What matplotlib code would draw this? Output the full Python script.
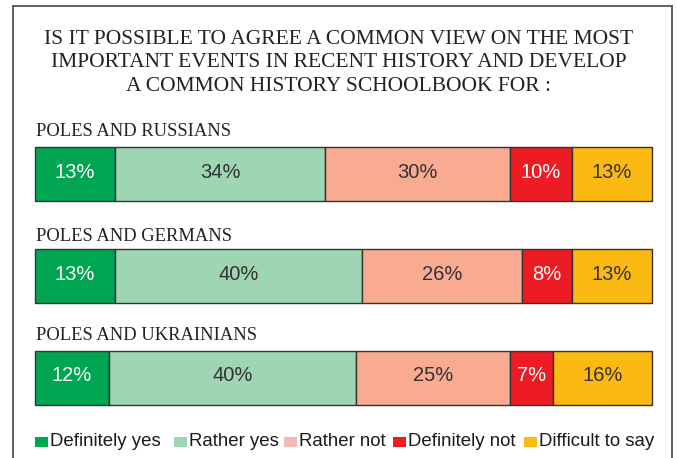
import matplotlib.pyplot as plt
from matplotlib.patches import Rectangle
from matplotlib.lines import Line2D

groups = ['POLES AND RUSSIANS', 'POLES AND GERMANS', 'POLES AND UKRAINIANS']
answers = ['Definitely yes', 'Rather yes', 'Rather not', 'Definitely not', 'Difficult to say']
shares = [
    [13, 34, 30, 10, 13],
    [13, 40, 26, 8, 13],
    [12, 40, 25, 7, 16],
]
bar_colors = ['#00A551', '#9FD5B2', '#F9AB91', '#ED1C24', '#FDB913']
legend_colors = ['#00A551', '#9FD5B2', '#F4B8B5', '#ED1C24', '#FDB913']
text_colors = ['white', '#333333', '#333333', 'white', '#333333']

title = ('IS IT POSSIBLE TO AGREE A COMMON VIEW ON THE MOST\n'
         'IMPORTANT EVENTS IN RECENT HISTORY AND DEVELOP\n'
         'A COMMON HISTORY SCHOOLBOOK FOR :')

W, H = 677, 458
fig = plt.figure(figsize=(W / 100, H / 100), dpi=100)
ax = fig.add_axes([35 / W, 0, 617 / W, 1])
ax.set_xlim(0, 100)
ax.set_ylim(H, 0)
ax.axis('off')

bar_y = [174, 276, 377.7]
label_y = [131, 236.5, 336]
for row, (name, vals) in enumerate(zip(groups, shares)):
    left = 0
    for v, c, tc in zip(vals, bar_colors, text_colors):
        ax.barh(bar_y[row], v, left=left, height=54, color=c,
                edgecolor='#333333', linewidth=1.0, clip_on=False)
        ax.text(left + v / 2, bar_y[row] - 2, f'{v}%', ha='center', va='center',
                color=tc, fontsize=14.5, family='Liberation Sans')
        left += v
    ax.text(0.15, label_y[row], name, ha='left', va='center',
            fontsize=13.3, family='Liberation Serif', color='#222222')

fig.text(0.5, 1 - 63 / H, title, ha='center', va='center',
         fontsize=15.5, family='Liberation Serif', color='#222222',
         linespacing=1.32)

# outer frame: left, top and right edges
frame_kw = dict(color='#555555', linewidth=1.3, transform=fig.transFigure)
x0, x1, y0 = 13 / W, 672 / W, 1 - 6 / H
fig.add_artist(Line2D([x0, x0], [0, y0], **frame_kw))
fig.add_artist(Line2D([x0, x1], [y0, y0], **frame_kw))
fig.add_artist(Line2D([x1, x1], [y0, 0], **frame_kw))

# legend row: colour square followed by its label
legend_x = [35, 174, 284, 393, 524]
legend_y = 442
for x, c, name in zip(legend_x, legend_colors, answers):
    fig.add_artist(Rectangle((x / W, 1 - (legend_y + 5) / H), 13 / W, 10.5 / H,
                             facecolor=c, edgecolor='none',
                             transform=fig.transFigure))
    fig.text((x + 15) / W, 1 - legend_y / H, name, ha='left', va='center',
             fontsize=13.4, family='Liberation Sans', color='#1a1a1a')

fig.savefig('out.png', dpi=100)
